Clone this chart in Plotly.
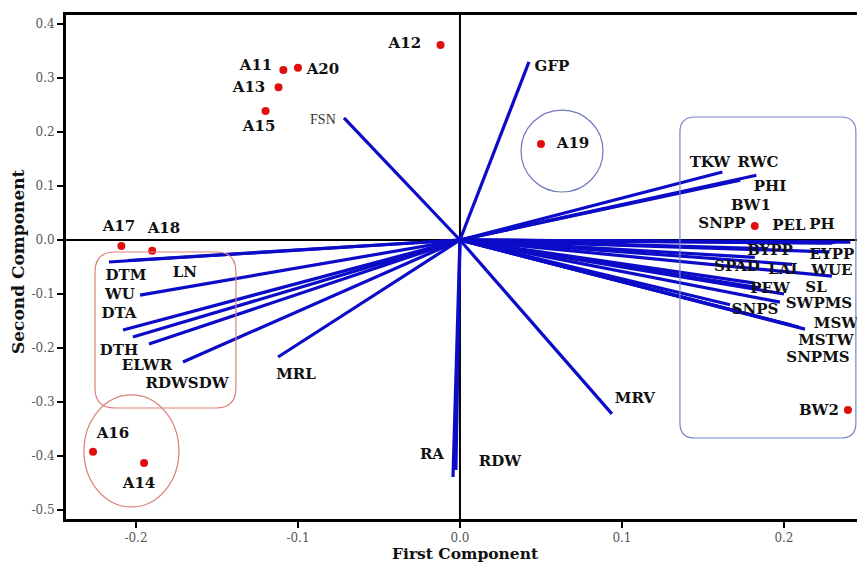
import plotly.graph_objects as go

# ---- genotype scores (PC1, PC2) ----
geno_names = ["A11", "A20", "A13", "A15", "A12", "A19", "A17", "A18", "A16", "A14", "", ""]
geno_pc1 = [-0.109, -0.100, -0.112, -0.120, -0.012, 0.050, -0.209, -0.190, -0.2265, -0.195, 0.182, 0.2395]
geno_pc2 = [0.315, 0.319, 0.283, 0.239, 0.361, 0.178, -0.011, -0.020, -0.392, -0.413, 0.026, -0.315]

# ---- trait loadings (vector end points) ----
trait_names = ["GFP", "FSN", "TKW", "RWC", "PHI", "BW1", "SNPP", "PEL", "PH", "BYPP", "EYPP",
               "SPAD", "LAI", "WUE", "PEW", "SL", "SWPMS", "SNPS", "MSW", "MSTW", "SNPMS", "BW2",
               "MRV", "RA", "RDW", "MRL", "DTM", "LN", "WU", "DTA", "DTH", "ELWR", "RDWSDW"]
trait_pc1 = [0.0426, -0.0716, 0.162, 0.183, 0.173, 0.232, 0.225, 0.230, 0.241, 0.190, 0.228,
             0.182, 0.205, 0.2296, 0.182, 0.184, 0.1975, 0.1667, 0.213, 0.209, 0.205, 0.200,
             0.0938, -0.0043, -0.0025, -0.1123, -0.2167, -0.205, -0.1975, -0.208, -0.2019, -0.192, -0.171]
trait_pc2 = [0.330, 0.226, 0.126, 0.120, 0.111, -0.004, -0.005, -0.006, -0.004, -0.016, -0.022,
             -0.032, -0.045, -0.067, -0.080, -0.088, -0.115, -0.120, -0.165, -0.161, -0.158, -0.100,
             -0.322, -0.439, -0.426, -0.2167, -0.0407, -0.038, -0.102, -0.1667, -0.1796, -0.1926, -0.226]

# ---- label placements (data units) ----
trait_label_x = [0.0568, -0.0846, 0.1543, 0.1840, 0.1914, 0.1796, 0.1617, 0.2031, 0.2235, 0.1914, 0.2296,
                 0.1710, 0.1994, 0.2296, 0.1914, 0.2198, 0.2216, 0.1821, 0.2321, 0.2259, 0.2210, 0.2216,
                 0.1080, -0.0173, 0.0247, -0.1012, -0.2062, -0.1698, -0.2099, -0.2105, -0.2105, -0.1932, -0.1685]
trait_label_y = [0.3204, 0.2222, 0.1426, 0.1426, 0.0981, 0.0630, 0.0296, 0.0259, 0.0278, -0.0204, -0.0278,
                 -0.0500, -0.0556, -0.0574, -0.0907, -0.0889, -0.1185, -0.1296, -0.1556, -0.1870, -0.2185, -0.3167,
                 -0.2944, -0.3981, -0.4111, -0.2500, -0.0667, -0.0611, -0.1019, -0.1370, -0.2056, -0.2333, -0.2667]
geno_label_x = [-0.1259, -0.0846, -0.1302, -0.1240, -0.0340, 0.0698, -0.2105, -0.1827, -0.2142, -0.1981, None, None]
geno_label_y = [0.3222, 0.3148, 0.2815, 0.2093, 0.3630, 0.1778, 0.0241, 0.0204, -0.3593, -0.4519, None, None]

x_ticks = [-0.2, -0.1, 0.0, 0.1, 0.2]
x_ticktext = ["-0.2", "-0.1", "0.0", "0.1", "0.2"]
y_ticks = [0.4, 0.3, 0.2, 0.1, 0.0, -0.1, -0.2, -0.3, -0.4, -0.5]
y_ticktext = ["0.4", "0.3", "0.2", "0.1", "0.0", "-0.1", "-0.2", "-0.3", "-0.4", "-0.5"]

XR = [-0.2432, 0.2451]
YR = [-0.5167, 0.4167]

fig = go.Figure()

# vectors from origin
vx, vy = [], []
for a, b in zip(trait_pc1, trait_pc2):
    vx += [0, a, None]
    vy += [0, b, None]
fig.add_trace(go.Scatter(x=vx, y=vy, mode="lines", line=dict(color="#0c0cc8", width=3.2),
                         hoverinfo="skip", showlegend=False))

# genotype points
fig.add_trace(go.Scatter(x=geno_pc1, y=geno_pc2, mode="markers",
                         marker=dict(color="#e01010", size=8), showlegend=False))

label_font = dict(family="DejaVu Serif", size=15, color="#111111")
big_idx = [i for i, n in enumerate(trait_names) if n != "FSN"]
fig.add_trace(go.Scatter(x=[trait_label_x[i] for i in big_idx], y=[trait_label_y[i] for i in big_idx],
                         text=["<b>%s</b>" % trait_names[i] for i in big_idx], mode="text",
                         textfont=label_font, textposition="middle center", showlegend=False,
                         cliponaxis=True))
fsn_i = trait_names.index("FSN")
fig.add_trace(go.Scatter(x=[trait_label_x[fsn_i]], y=[trait_label_y[fsn_i]], text=["FSN"], mode="text",
                         textfont=dict(family="Liberation Serif", size=14, color="#333333"),
                         showlegend=False))
gi = [i for i, n in enumerate(geno_names) if n]
fig.add_trace(go.Scatter(x=[geno_label_x[i] for i in gi], y=[geno_label_y[i] for i in gi],
                         text=["<b>%s</b>" % geno_names[i] for i in gi], mode="text",
                         textfont=label_font, showlegend=False))


def rounded_rect(x0, x1, y0, y1, rx, ry):
    return (f"M {x0+rx},{y1} L {x1-rx},{y1} Q {x1},{y1} {x1},{y1-ry} "
            f"L {x1},{y0+ry} Q {x1},{y0} {x1-rx},{y0} L {x0+rx},{y0} Q {x0},{y0} {x0},{y0+ry} "
            f"L {x0},{y1-ry} Q {x0},{y1} {x0+rx},{y1} Z")


shapes = [
    dict(type="line", xref="x", yref="y", x0=XR[0], x1=XR[1], y0=0, y1=0,
         line=dict(color="black", width=2), layer="below"),
    dict(type="line", xref="x", yref="y", x0=0, x1=0, y0=YR[0], y1=YR[1],
         line=dict(color="black", width=2), layer="below"),
    dict(type="path", path=rounded_rect(-0.2253, -0.1383, -0.3111, -0.0222, 0.0123, 0.037),
         line=dict(color="#d98078", width=1.2)),
    dict(type="circle", xref="x", yref="y", x0=-0.2321, x1=-0.1735, y0=-0.4944, y1=-0.287,
         line=dict(color="#d98078", width=1.2)),
    dict(type="circle", xref="x", yref="y", x0=0.0377, x1=0.0883, y0=0.0889, y1=0.2407,
         line=dict(color="#7078c0", width=1.2)),
    dict(type="path", path=rounded_rect(0.1358, 0.2444, -0.3667, 0.2278, 0.0093, 0.028),
         line=dict(color="#7886c8", width=1.2)),
]

ML, MT, MB = 66, 15, 44
PW, PH_ = 791, 504
fig.update_layout(
    width=ML + PW, height=MT + PH_ + MB,
    margin=dict(l=ML, r=0, t=MT, b=MB, autoexpand=False),
    paper_bgcolor="white", plot_bgcolor="white",
    shapes=shapes,
    xaxis=dict(range=XR, tickvals=x_ticks, ticktext=x_ticktext, showgrid=False, zeroline=False,
               showline=True, linewidth=3, linecolor="black", mirror=True, automargin=False,
               ticks="outside", ticklen=6, tickwidth=1.5, tickcolor="black",
               tickfont=dict(family="DejaVu Serif", size=12, color="#555555")),
    yaxis=dict(range=YR, tickvals=y_ticks, ticktext=y_ticktext, showgrid=False, zeroline=False,
               showline=True, linewidth=3, linecolor="black", automargin=False,
               ticks="outside", ticklen=6, tickwidth=1.5, tickcolor="black",
               tickfont=dict(family="DejaVu Serif", size=12, color="#555555")),
    annotations=[
        dict(text="<b>First Component</b>", xref="paper", yref="paper", x=(465 - 66) / PW, y=-(553 - 519) / PH_,
             showarrow=False, font=dict(family="DejaVu Serif", size=15.5, color="#111111"),
             xanchor="center", yanchor="middle"),
        dict(text="<b>Second Component</b>", xref="paper", yref="paper", x=(18 - 66) / PW, y=(519 - 262) / PH_,
             showarrow=False, textangle=-90, font=dict(family="DejaVu Serif", size=17, color="#111111"),
             xanchor="center", yanchor="middle"),
    ],
)

# remove the page's default body margin so the figure sits at the window's top-left corner
fig.write_html("out.html", config={"displayModeBar": False},
               post_script="document.body.style.margin='0';document.body.style.overflow='hidden';")
